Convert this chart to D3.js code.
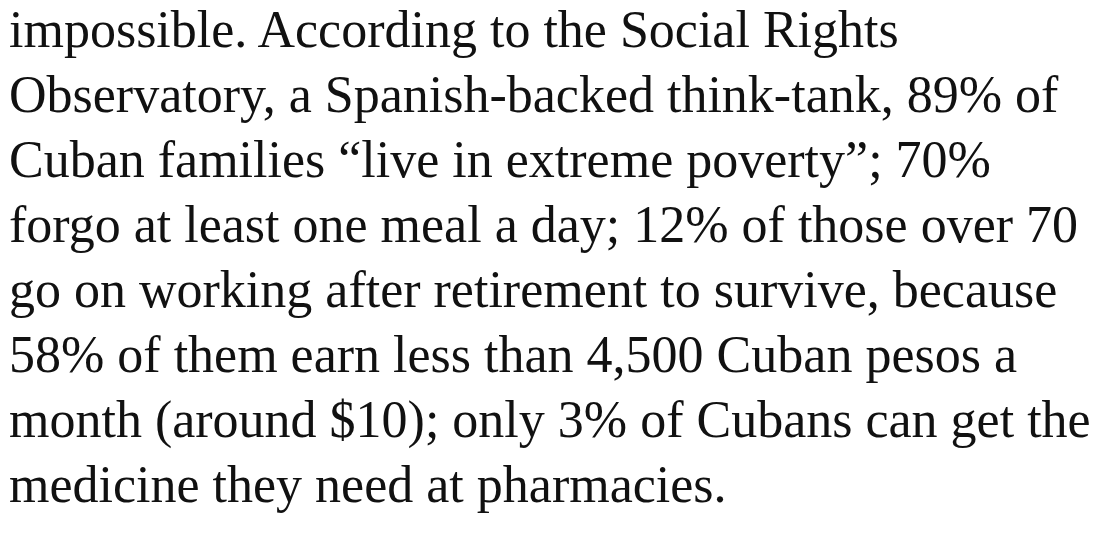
<!DOCTYPE html>
<html>
<head>
<meta charset="utf-8">
<script src="https://cdn.jsdelivr.net/npm/d3@7"></script>
<style>
  body { margin: 0; background: #fff; }
</style>
</head>
<body>
<div id="chart"></div>
<script>
// lines of the paragraph, as they wrap in the picture
var lines = [
    "impossible. According to the Social Rights",
    "Observatory, a Spanish-backed think-tank, 89% of",
    "Cuban families \u201clive in extreme poverty\u201d; 70%",
    "forgo at least one meal a day; 12% of those over 70",
    "go on working after retirement to survive, because",
    "58% of them earn less than 4,500 Cuban pesos a",
    "month (around $10); only 3% of Cubans can get the",
    "medicine they need at pharmacies."
];

var svgWidth = 1116;
var svgHeight = 550;

var svg = d3.select("#chart")
    .append("svg")
    .attr("width", svgWidth)
    .attr("height", svgHeight);

// one band per line of text
var y = d3.scaleBand()
    .domain(d3.range(lines.length))
    .range([0, 520]);

svg.selectAll("text")
    .data(lines)
    .enter()
    .append("text")
    .attr("x", 9)
    .attr("y", function (d, i) {
        return y(i) + 47;
    })
    .attr("font-family", "'Liberation Serif', 'DejaVu Serif', serif")
    .attr("font-size", 52)
    .attr("fill", "#111")
    .text(function (d) { return d; });
</script>
</body>
</html>
